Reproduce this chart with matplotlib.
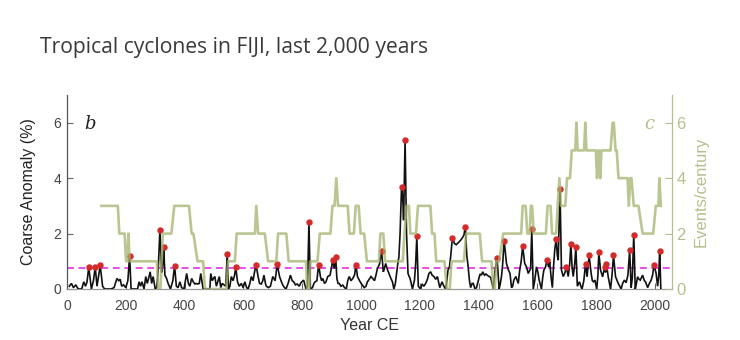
import numpy as np
import matplotlib
matplotlib.use("Agg")
import matplotlib.pyplot as plt

# Coarse anomaly record (%), year CE
anomaly_years = [
    8, 15, 22, 30, 38, 50, 57, 63, 68, 74, 83, 90, 96, 102, 108, 113, 121, 128, 150, 160,
    170, 176, 181, 186, 192, 200, 207, 213, 218, 240, 245, 250, 255, 262, 268, 273, 278, 283, 288, 293,
    300, 305, 310, 316, 322, 326, 329, 333, 338, 344, 352, 360, 366, 372, 378, 384, 390, 398, 403, 407,
    413, 418, 424, 430, 435, 440, 445, 450, 455, 463, 486, 489, 494, 498, 503, 508, 513, 518, 523, 528,
    534, 540, 545, 549, 554, 559, 565, 570, 574, 580, 586, 593, 599, 605, 611, 616, 622, 627, 633, 637,
    643, 650, 655, 661, 666, 670, 675, 678, 685, 692, 700, 708, 715, 723, 728, 734, 740, 745, 752, 760,
    766, 771, 777, 783, 790, 796, 805, 813, 818, 823, 828, 835, 840, 844, 850, 856, 862, 866, 870, 876,
    881, 887, 895, 900, 904, 909, 914, 918, 922, 926, 932, 938, 944, 950, 955, 960, 966, 972, 978, 983,
    988, 995, 1002, 1011, 1017, 1022, 1028, 1034, 1040, 1046, 1051, 1056, 1063, 1070, 1076, 1080, 1084, 1090, 1095, 1101,
    1107, 1112, 1117, 1121, 1125, 1129, 1133, 1138, 1142, 1145, 1150, 1155, 1160, 1164, 1167, 1171, 1175, 1182, 1186, 1190,
    1195, 1203, 1208, 1214, 1220, 1226, 1231, 1237, 1242, 1248, 1254, 1260, 1268, 1272, 1276, 1282, 1288, 1292, 1296, 1301,
    1305, 1311, 1318, 1324, 1330, 1339, 1345, 1350, 1355, 1360, 1364, 1369, 1373, 1378, 1382, 1388, 1393, 1399, 1405, 1410,
    1414, 1420, 1425, 1433, 1441, 1446, 1450, 1456, 1463, 1470, 1474, 1478, 1482, 1487, 1495, 1501, 1507, 1512, 1516, 1520,
    1527, 1535, 1540, 1545, 1550, 1557, 1563, 1569, 1577, 1581, 1586, 1591, 1597, 1602, 1606, 1614, 1618, 1622, 1628, 1633,
    1638, 1642, 1647, 1651, 1655, 1659, 1664, 1668, 1671, 1677, 1682, 1688, 1694, 1699, 1705, 1710, 1714, 1718, 1722, 1727,
    1731, 1736, 1743, 1748, 1752, 1758, 1764, 1769, 1776, 1783, 1787, 1791, 1796, 1802, 1806, 1809, 1815, 1822, 1829, 1832,
    1835, 1841, 1849, 1854, 1859, 1866, 1874, 1880, 1885, 1890, 1896, 1902, 1908, 1914, 1919, 1923, 1928, 1933, 1937, 1941,
    1946, 1950, 1958, 1964, 1968, 1975, 1981, 1987, 1992, 1997, 2004, 2009, 2013, 2016, 2020,
]
anomaly_values = [
    0.10, 0.20, 0.05, 0.15, 0.00, 0.00, 0.26, 0.10, 0.25, 0.78, 0.00, 0.30, 0.80, 0.10, 0.50, 0.85, 0.10, 0.00, 0.00, 0.05,
    0.38, 0.30, 0.35, 0.10, 0.15, 0.05, 0.30, 1.18, 0.00, 0.00, 0.26, 0.10, 0.26, 0.00, 0.45, 0.20, 0.40, 0.62, 0.20, 0.45,
    0.00, 0.05, 0.60, 2.13, 0.60, 0.90, 1.50, 0.50, 0.40, 0.20, 0.00, 0.30, 0.83, 0.10, 0.05, 0.26, 0.05, 0.00, 0.30, 0.56,
    0.20, 0.10, 0.38, 0.25, 0.18, 0.20, 0.18, 0.20, 0.56, 0.00, 0.00, 0.56, 0.30, 0.38, 0.45, 0.10, 0.26, 0.45, 0.05, 0.20,
    0.15, 0.10, 1.26, 0.00, 0.10, 0.45, 0.30, 0.50, 0.78, 0.26, 0.10, 0.20, 0.05, 0.26, 0.05, 0.00, 0.20, 0.45, 0.30, 0.56,
    0.88, 0.45, 0.20, 0.18, 0.30, 0.50, 0.20, 0.10, 0.05, 0.10, 0.45, 0.30, 0.89, 0.45, 0.30, 0.14, 0.05, 0.00, 0.20, 0.50,
    0.30, 0.26, 0.15, 0.18, 0.10, 0.23, 0.32, 0.00, 0.10, 2.41, 0.00, 0.05, 0.20, 0.26, 0.30, 0.88, 0.45, 0.30, 0.38, 0.20,
    0.26, 0.45, 0.50, 0.80, 1.04, 0.74, 1.15, 0.38, 0.20, 0.20, 0.10, 0.14, 0.05, 0.00, 0.30, 0.45, 0.30, 0.38, 0.50, 0.87,
    0.45, 0.30, 0.18, 0.05, 0.10, 0.26, 0.35, 0.45, 0.38, 0.30, 0.50, 0.74, 0.90, 1.36, 0.62, 0.75, 0.92, 0.70, 0.56, 0.40,
    0.26, 0.00, 0.20, 0.56, 0.90, 1.16, 2.00, 3.69, 3.30, 2.48, 5.38, 2.00, 0.56, 0.45, 0.38, 0.20, 0.00, 0.32, 0.90, 1.91,
    0.10, 0.00, 0.18, 0.10, 0.20, 0.35, 0.56, 0.62, 0.50, 0.45, 0.35, 0.45, 0.05, 0.15, 0.26, 0.10, 0.00, 0.30, 0.68, 0.80,
    1.16, 1.84, 1.64, 1.60, 1.66, 1.76, 1.85, 1.94, 2.24, 1.20, 0.86, 0.30, 0.05, 0.20, 0.20, 0.00, 0.05, 0.30, 0.54, 0.50,
    0.62, 0.50, 0.54, 0.47, 0.42, 0.20, 0.00, 0.68, 1.12, 0.00, 0.20, 0.45, 0.90, 1.75, 0.92, 0.70, 0.56, 0.05, 0.10, 0.32,
    0.45, 0.20, 0.68, 1.00, 1.54, 0.92, 0.80, 0.56, 0.74, 2.15, 0.00, 0.30, 0.80, 0.60, 0.32, 0.00, 0.40, 0.68, 0.80, 1.06,
    0.80, 0.98, 0.40, 0.05, 0.80, 1.40, 1.82, 1.20, 1.04, 3.60, 0.68, 0.45, 0.60, 0.78, 0.45, 0.90, 1.63, 0.80, 0.45, 0.90,
    1.51, 0.10, 0.26, 0.10, 0.00, 0.30, 0.91, 0.44, 1.21, 0.56, 0.30, 0.26, 0.32, 0.00, 0.50, 1.32, 0.68, 0.44, 0.79, 0.60,
    0.90, 0.44, 0.00, 0.50, 1.21, 0.44, 0.23, 0.10, 0.00, 0.20, 0.32, 0.23, 0.50, 1.39, 0.05, 0.40, 1.96, 0.00, 0.20, 0.44,
    0.35, 0.32, 0.50, 0.30, 0.26, 0.05, 0.20, 0.32, 0.50, 0.87, 0.56, 0.10, 0.50, 1.38, 0.00,
]

# Identified event peaks (year CE)
event_years = [
    74, 96, 113, 213, 316, 329, 366, 545, 574, 643, 715, 823, 856, 904, 914, 983, 1070, 1138, 1150, 1190,
    1311, 1355, 1463, 1487, 1550, 1581, 1633, 1664, 1677, 1699, 1714, 1731, 1764, 1776, 1809, 1829, 1835, 1859,
    1914, 1928, 1997, 2016,
]

# Event-detection threshold (%)
threshold = 0.75

# Events per century (moving count)
rate_years = [
    117, 173, 178, 196, 201, 205, 209, 213, 306, 310, 318, 326, 355, 365, 415, 424, 430, 444, 463, 469,
    542, 548, 571, 577, 639, 644, 650, 673, 684, 712, 718, 746, 754, 813, 817, 824, 828, 852, 860, 896,
    903, 910, 916, 922, 955, 961, 976, 982, 992, 999, 1011, 1020, 1061, 1066, 1076, 1082, 1142, 1148, 1155, 1163,
    1168, 1187, 1194, 1236, 1242, 1250, 1256, 1284, 1292, 1302, 1308, 1350, 1358, 1404, 1412, 1444, 1450, 1455, 1461, 1470,
    1484, 1545, 1550, 1560, 1566, 1574, 1578, 1582, 1588, 1629, 1635, 1645, 1650, 1664, 1669, 1675, 1680, 1695, 1701, 1711,
    1717, 1729, 1733, 1737, 1759, 1763, 1767, 1799, 1803, 1807, 1810, 1814, 1818, 1849, 1856, 1860, 1866, 1870, 1876, 1907,
    1911, 1916, 1920, 1928, 1944, 1958, 1994, 2003, 2012, 2015, 2020,
]
rate_values = [
    3, 3, 2, 2, 1, 1, 2, 1, 1, 0, 0, 2, 2, 3, 3, 2, 2, 1, 1, 0,
    0, 1, 1, 2, 2, 3, 2, 2, 1, 1, 2, 2, 1, 1, 0, 0, 1, 1, 2, 2,
    3, 3, 4, 3, 3, 2, 2, 3, 3, 2, 2, 1, 1, 2, 2, 1, 1, 2, 3, 3,
    2, 2, 3, 3, 2, 2, 1, 1, 0, 0, 1, 1, 2, 2, 1, 1, 0, 0, 1, 1,
    2, 2, 3, 3, 2, 2, 3, 3, 2, 2, 3, 3, 2, 2, 3, 4, 3, 3, 4, 4,
    5, 5, 6, 5, 5, 6, 5, 5, 4, 5, 5, 4, 5, 5, 6, 6, 5, 5, 4, 4,
    3, 4, 4, 3, 3, 2, 2, 3, 3, 4, 3,
]

x_ticks = [0, 200, 400, 600, 800, 1000, 1200, 1400, 1600, 1800, 2000]
y_ticks = [0, 2, 4, 6]

BLACK = "#111111"
GREEN = "#a3b36c"
GREEN_TXT = "#b4c08c"
RED = "#d42a2a"
MAGENTA = "#e21ee2"
TICK_TXT = "#444444"

tick_font = ["Liberation Sans Narrow", "Liberation Sans", "DejaVu Sans"]
label_font = ["Liberation Sans", "DejaVu Sans"]

fig = plt.figure(figsize=(7.4, 3.4), dpi=100)
ax = fig.add_axes([67 / 740, 1 - 289 / 340, (672 - 67) / 740, (289 - 95) / 340])

ax.plot(anomaly_years, anomaly_values, color=BLACK, lw=1.2, zorder=3, solid_joinstyle="miter")
peak_vals = np.interp(event_years, anomaly_years, anomaly_values)
ax.plot(event_years, peak_vals, "o", ms=3.6, color=RED, mec=RED, zorder=4)
ax.axhline(threshold, color=MAGENTA, lw=1.1, ls=(0, (4.5, 3)), zorder=2)

ax.set_xlim(0, 2058)
ax.set_ylim(0, 7)
ax.set_xticks(x_ticks)
ax.set_yticks(y_ticks)
ax.tick_params(axis="both", direction="in", length=4, width=0.8, colors="#666666",
               labelcolor=TICK_TXT, labelsize=10)
ax.tick_params(axis="x", pad=7)
ax.tick_params(axis="y", pad=4)
for lab in ax.get_xticklabels() + ax.get_yticklabels():
    lab.set_family(tick_font)
ax.spines["top"].set_visible(False)
ax.spines["right"].set_visible(False)
ax.spines["left"].set_color("#555555")
ax.spines["bottom"].set_color("#999999")
ax.spines["left"].set_linewidth(0.9)
ax.spines["bottom"].set_linewidth(0.9)

ax.set_xlabel("Year CE", family=label_font, fontsize=11.5, color="#333333", labelpad=4)
ax.set_ylabel("Coarse Anomaly (%)", family=label_font, fontsize=11.5, color="#222222", labelpad=13)

ax.text(0.038, 0.85, "b", transform=ax.transAxes, family=["DejaVu Serif"], style="italic",
        fontsize=13, color="#222222", ha="center", va="center")

ax2 = ax.twinx()
ax2.plot(rate_years, rate_values, color=GREEN, lw=1.9, alpha=0.75, zorder=5)
ax2.set_ylim(0, 7)
ax2.set_yticks(y_ticks)
ax2.tick_params(axis="y", direction="in", length=5, width=0.8, colors=GREEN_TXT,
                labelcolor=GREEN_TXT, labelsize=12, pad=3)
for lab in ax2.get_yticklabels():
    lab.set_family(label_font)
for side in ["top", "left", "bottom"]:
    ax2.spines[side].set_visible(False)
ax2.spines["right"].set_color(GREEN_TXT)
ax2.spines["right"].set_linewidth(0.9)
ax2.set_ylabel("Events/century", family=label_font, fontsize=12, color=GREEN_TXT, labelpad=6)
ax2.text(0.962, 0.85, "c", transform=ax2.transAxes, family=["DejaVu Serif"], style="italic",
         fontsize=13, color=GREEN_TXT, ha="center", va="center")

fig.text(40 / 740, 1 - 47 / 340, "Tropical cyclones in FIJI, last 2,000 years",
         family=["Open Sans", "DejaVu Sans"], fontsize=15.2, color="#3a3a3a",
         ha="left", va="center")

fig.savefig("out.png", dpi=100)
